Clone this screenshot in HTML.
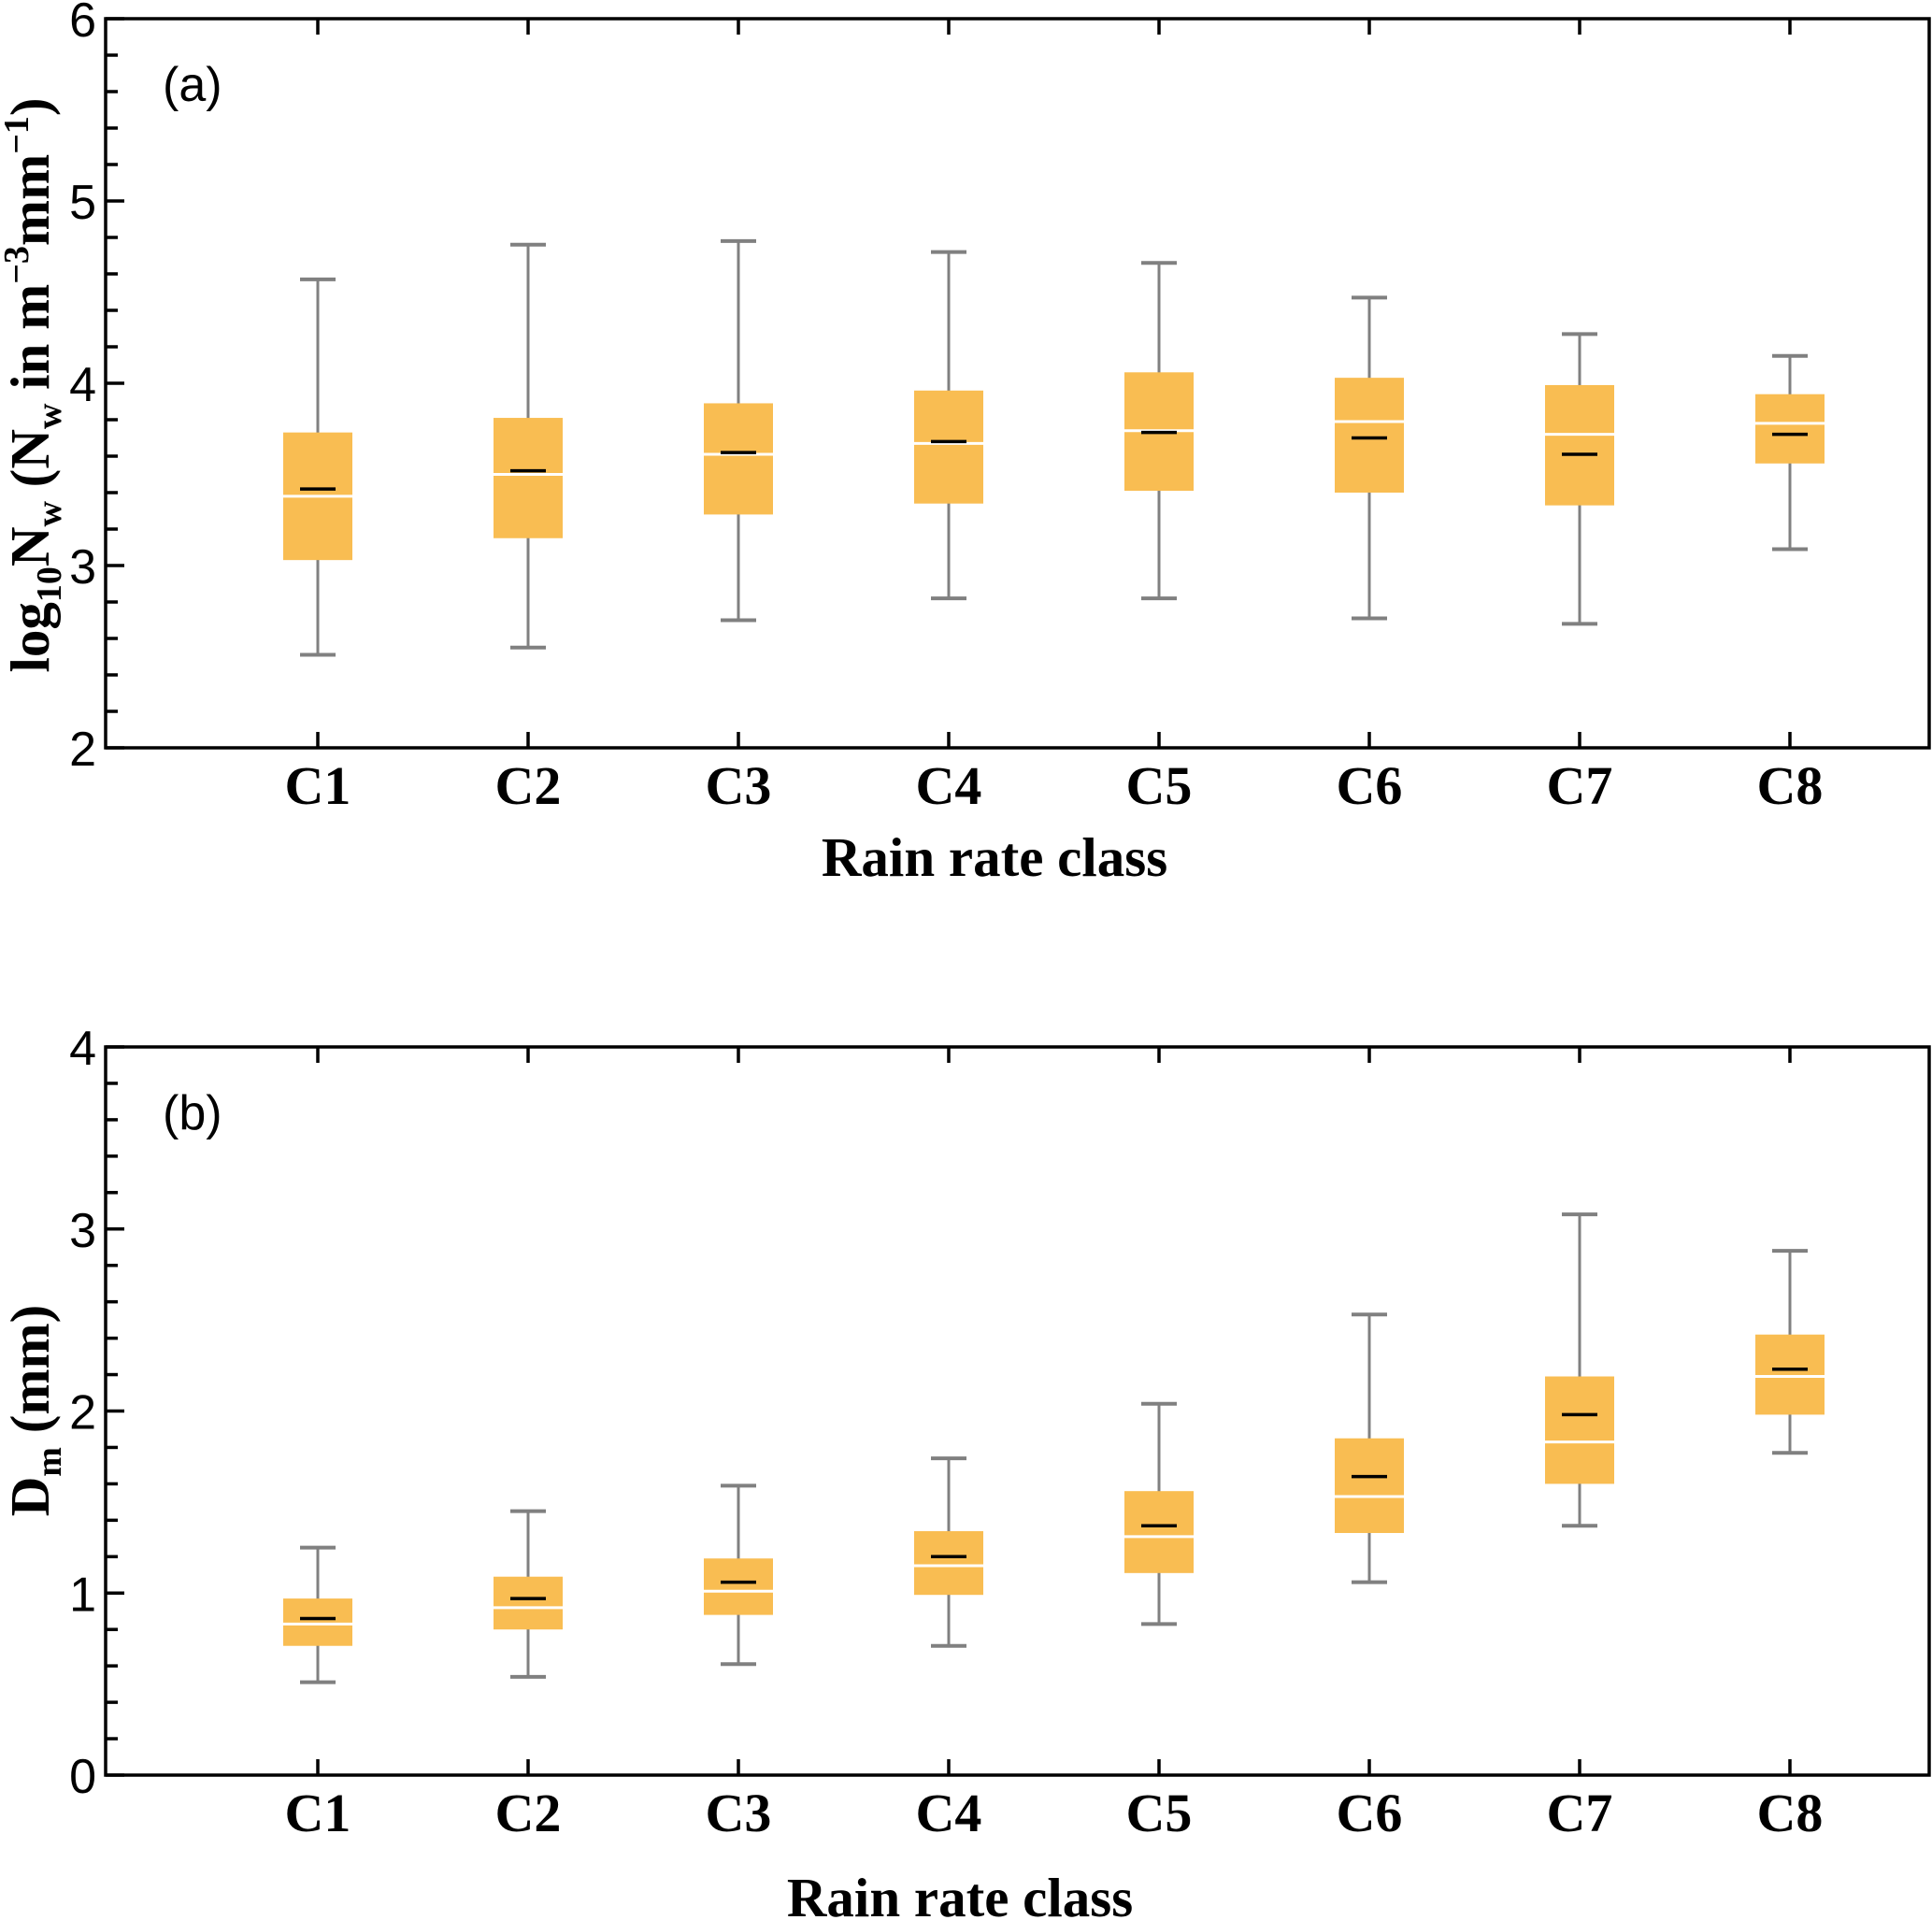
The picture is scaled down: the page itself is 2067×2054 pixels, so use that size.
<!DOCTYPE html>
<html><head><meta charset="utf-8"><style>
html,body{margin:0;padding:0;background:#fff}
svg{display:block}
.tk{font-family:"Liberation Sans",Arial,sans-serif;font-size:52px;fill:#000}
.xt{font-family:"Liberation Serif",serif;font-weight:bold;font-size:58px;fill:#000}
.tt{font-family:"Liberation Serif",serif;font-weight:bold;font-size:59px;fill:#000}
</style></head><body>
<svg id="chart" width="2067" height="2054" viewBox="0 0 2067 2054" xmlns="http://www.w3.org/2000/svg"></svg>
<script>
const categories = ["C1","C2","C3","C4","C5","C6","C7","C8"];
// panel a: log10 Nw
const aLow  = [2.51,2.55,2.70,2.82,2.82,2.71,2.68,3.09];
const aQ1   = [3.03,3.15,3.28,3.34,3.41,3.40,3.33,3.56];
const aMed  = [3.38,3.50,3.61,3.67,3.74,3.79,3.72,3.78];
const aMean = [3.42,3.52,3.62,3.68,3.73,3.70,3.61,3.72];
const aQ3   = [3.73,3.81,3.89,3.96,4.06,4.03,3.99,3.94];
const aHigh = [4.57,4.76,4.78,4.72,4.66,4.47,4.27,4.15];
const aTicks = ["2","3","4","5","6"];
// panel b: Dm
const bLow  = [0.51,0.54,0.61,0.71,0.83,1.06,1.37,1.77];
const bQ1   = [0.71,0.80,0.88,0.99,1.11,1.33,1.60,1.98];
const bMed  = [0.83,0.92,1.01,1.15,1.31,1.53,1.83,2.19];
const bMean = [0.86,0.97,1.06,1.20,1.37,1.64,1.98,2.23];
const bQ3   = [0.97,1.09,1.19,1.34,1.56,1.85,2.19,2.42];
const bHigh = [1.25,1.45,1.59,1.74,2.04,2.53,3.08,2.88];
const bTicks = ["0","1","2","3","4"];

const NS="http://www.w3.org/2000/svg";
const svg=document.getElementById('chart');
function mk(tag,attrs,parent,text){const e=document.createElementNS(NS,tag);for(const k in attrs)e.setAttribute(k,attrs[k]);if(text!==undefined)e.textContent=text;(parent||svg).appendChild(e);return e;}

function panel(cfg){
  const L=113,R=2064,T=cfg.top,B=cfg.bottom;
  const g=mk('g',{});
  
  
  const y=v=>B-(v-cfg.ymin)/(cfg.ymax-cfg.ymin)*(B-T);
  const x=i=>340+i*225;
  for(let v=cfg.ymin;v<=cfg.ymax+1e-9;v+=0.2){
    const major=Math.abs(v-Math.round(v))<1e-6;
    mk('line',{x1:L,x2:L+(major?20:13),y1:y(v),y2:y(v),stroke:'#000','stroke-width':3.5},g);
  }
  const tlab=mk('g',{},g);
  
  
  cfg.ticks.forEach(t=>{mk('text',{x:L-10,y:y(+t)+19,'text-anchor':'end',class:'tk'},tlab,t);});
  const xl=mk('g',{},g);
  
  
  categories.forEach((c,i)=>{
    mk('line',{x1:x(i),x2:x(i),y1:B,y2:B-17,stroke:'#000','stroke-width':3.5},g);
    mk('line',{x1:x(i),x2:x(i),y1:T,y2:T+17,stroke:'#000','stroke-width':3.5},g);
    mk('text',{x:x(i),y:B+60,'text-anchor':'middle',class:'xt'},xl,c);
  });
  categories.forEach((c,i)=>{
    const bg=mk('g',{},g);
    
    
    const cx=x(i),hw=37,cw=19;
    mk('line',{x1:cx,x2:cx,y1:y(cfg.high[i]),y2:y(cfg.low[i]),stroke:'#808080','stroke-width':3},bg);
    mk('line',{x1:cx-cw,x2:cx+cw,y1:y(cfg.high[i]),y2:y(cfg.high[i]),stroke:'#808080','stroke-width':4},bg);
    mk('line',{x1:cx-cw,x2:cx+cw,y1:y(cfg.low[i]),y2:y(cfg.low[i]),stroke:'#808080','stroke-width':4},bg);
    mk('rect',{x:cx-hw,y:y(cfg.q3[i]),width:2*hw,height:y(cfg.q1[i])-y(cfg.q3[i]),fill:'#F9BD52'},bg);
    mk('line',{x1:cx-hw,x2:cx+hw,y1:y(cfg.med[i]),y2:y(cfg.med[i]),stroke:'#fff','stroke-width':3},bg);
    mk('line',{x1:cx-cw,x2:cx+cw,y1:y(cfg.mean[i]),y2:y(cfg.mean[i]),stroke:'#000','stroke-width':3.5},bg);
  });
  const fr=mk('rect',{x:L,y:T,width:R-L,height:B-T,fill:'none',stroke:'#000','stroke-width':3.5},g);
  
  
  const pl=mk('text',{x:174,y:T+88,class:'tk','font-size':'52'},g,cfg.label);
  
  
  const xt=mk('text',{x:cfg.xtX,y:cfg.xtY,'text-anchor':'middle',class:'tt'},g,'Rain rate class');
  
  
  return {g,y};
}

const pa=panel({name:'panel-a',top:20,bottom:800,ymin:2,ymax:6,ticks:aTicks,low:aLow,q1:aQ1,med:aMed,mean:aMean,q3:aQ3,high:aHigh,label:'(a)',xtX:1064,xtY:937});
const pb=panel({name:'panel-b',top:1120,bottom:1899,ymin:0,ymax:4,ticks:bTicks,low:bLow,q1:bQ1,med:bMed,mean:bMean,q3:bQ3,high:bHigh,label:'(b)',xtX:1027,xtY:2050});

const ya=mk('text',{transform:'translate(52,412) rotate(-90)','text-anchor':'middle',class:'tt','font-size':'56'},pa.g);


ya.innerHTML='log<tspan font-size="38" dy="13">10</tspan><tspan dy="-13">N</tspan><tspan font-size="38" dy="13">w</tspan><tspan dy="-13"> (N</tspan><tspan font-size="38" dy="13">w</tspan><tspan dy="-13"> in m</tspan><tspan font-size="38" dy="-22">−3</tspan><tspan dy="22">mm</tspan><tspan font-size="38" dy="-22">−1</tspan><tspan dy="22">)</tspan>';
const yb=mk('text',{transform:'translate(52,1509) rotate(-90)','text-anchor':'middle',class:'tt','font-size':'56'},pb.g);


yb.innerHTML='D<tspan font-size="38" dy="13">m</tspan><tspan dy="-13"> (mm)</tspan>';
</script>
</body></html>
